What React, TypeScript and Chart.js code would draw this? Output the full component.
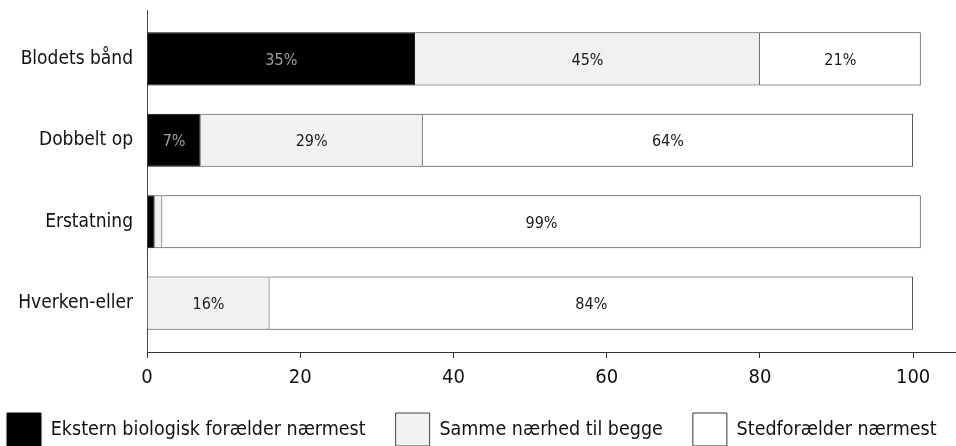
import React, { useEffect, useRef } from "react";
import { Chart, registerables } from "chart.js";

Chart.register(...registerables);

const categories = ["Blodets bånd", "Dobbelt op", "Erstatning", "Hverken-eller"];
const seriesNames = ["Ekstern biologisk forælder nærmest", "Samme nærhed til begge", "Stedforælder nærmest"];
const eksternValues = [35, 7, 1, 0];
const sammeValues = [45, 29, 1, 16];
const stedValues = [21, 64, 99, 84];
const xTickValues = [0, 20, 40, 60, 80, 100];

const FONT = "'DejaVu Sans Condensed', 'DejaVu Sans', sans-serif";

const toPoints = (vals: number[]) => vals.map((v, i) => ({ x: v, y: i }));

const labelPlugin = {
  id: "barLabels",
  afterDatasetsDraw(chart: any) {
    const ctx = chart.ctx;
    const colors = ["#a0a0a0", "#1a1a1a", "#1a1a1a"];
    ctx.save();
    ctx.font = `16px ${FONT}`;
    ctx.textAlign = "center";
    ctx.textBaseline = "middle";
    chart.data.datasets.forEach((ds: any, di: number) => {
      const meta = chart.getDatasetMeta(di);
      meta.data.forEach((el: any, i: number) => {
        const v = ds.data[i].x;
        if (v < 5) return;
        const p = el.getProps(["x", "base", "y"], true);
        ctx.fillStyle = colors[di];
        ctx.fillText(`${v}%`, (p.x + p.base) / 2, p.y + 2);
      });
    });
    ctx.restore();
  },
};

export default function App() {
  const ref = useRef<HTMLCanvasElement | null>(null);
  useEffect(() => {
    if (!ref.current) return;
    const chart = new Chart(ref.current, {
      type: "bar",
      data: {
        datasets: [
          { label: seriesNames[0], data: toPoints(eksternValues), backgroundColor: "#000", borderColor: "#000", borderWidth: 1 },
          { label: seriesNames[1], data: toPoints(sammeValues), backgroundColor: "#f1f1f1", borderColor: "#444", borderWidth: 1 },
          { label: seriesNames[2], data: toPoints(stedValues), backgroundColor: "#fff", borderColor: "#333", borderWidth: 1 },
        ] as any,
      },
      options: {
        indexAxis: "y",
        responsive: false,
        animation: false,
        events: [],
        layout: { padding: { left: -23, right: -40, top: 10, bottom: -10 } },
        datasets: { bar: { categoryPercentage: 1, barPercentage: 0.653 } },
        scales: {
          x: {
            type: "linear",
            stacked: true,
            min: 0,
            max: 105.6,
            afterBuildTicks: (s: any) => { s.ticks = xTickValues.map((v) => ({ value: v })); },
            afterFit: (s: any) => { s.height = 31; },
            grid: { display: true, drawOnChartArea: false, drawTicks: true, tickLength: 6, color: "#333" },
            border: { display: true, color: "#333", width: 1 },
            ticks: { color: "#111", font: { family: FONT, size: 20 }, padding: 8, maxRotation: 0 },
          },
          y: {
            type: "linear",
            stacked: true,
            reverse: true,
            offset: false,
            min: -0.6,
            max: 3.6,
            afterBuildTicks: (s: any) => { s.ticks = categories.map((_, i) => ({ value: i })); },
            afterFit: (s: any) => { s.width = 170; s.paddingTop = 0; s.paddingBottom = 0; },
            grid: { display: false, drawTicks: false, offset: false },
            border: { display: true, color: "#444", width: 1 },
            ticks: {
              color: "#111",
              font: { family: FONT, size: 19 },
              padding: 14,
              autoSkip: false,
              callback: (v: any) => categories[v as number] ?? "",
            },
          },
        },
        plugins: {
          legend: {
            position: "bottom",
            align: "start",
            labels: {
              boxWidth: 34,
              boxHeight: 33,
              padding: 30,
              color: "#111",
              font: { family: FONT, size: 19.5 },
            },
          },
          tooltip: { enabled: false },
        },
      } as any,
      plugins: [labelPlugin],
    });
    return () => chart.destroy();
  }, []);
  return (
    <div style={{ position: "fixed", left: 0, top: 0, width: 956, height: 446, background: "#fff" }}>
      <canvas ref={ref} width={956} height={446} style={{ display: "block" }} />
    </div>
  );
}
